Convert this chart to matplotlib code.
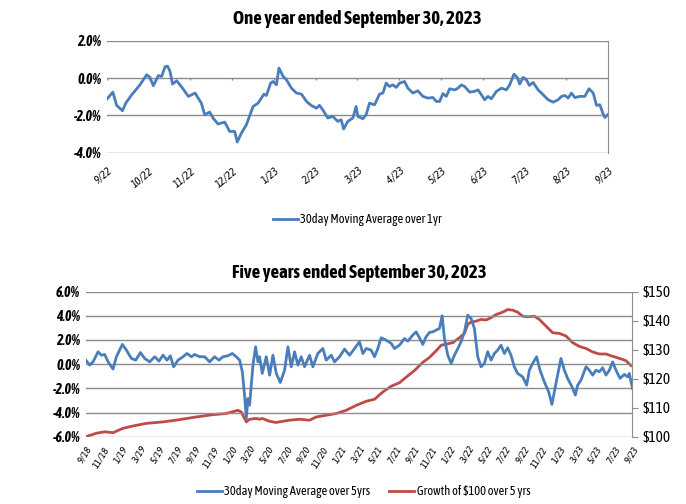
import matplotlib
matplotlib.use("Agg")
import matplotlib.pyplot as plt

plt.rcParams['font.family'] = ['Asap Condensed', 'Liberation Sans', 'DejaVu Sans']

BLUE = "#4A7EBB"
RED = "#BE4B48"
GRID = "#8C8C8C"

# ---- one year chart: months since 9/30/22, 30day moving average (%) ----
yr_month = [0.0, 0.14, 0.23, 0.37, 0.45, 0.59, 0.79, 0.95, 1.03, 1.11, 1.23, 1.31, 1.39, 1.45,
            1.51, 1.57, 1.67, 1.81, 1.95, 2.11, 2.26, 2.34, 2.46, 2.54, 2.66, 2.82, 2.94, 3.06,
            3.12, 3.22, 3.34, 3.5, 3.62, 3.76, 3.82, 3.92, 3.98, 4.06, 4.12, 4.22, 4.3, 4.42,
            4.54, 4.66, 4.78, 4.89, 5.02, 5.09, 5.17, 5.29, 5.41, 5.53, 5.61, 5.67, 5.77, 5.89,
            5.97, 6.01, 6.13, 6.21, 6.29, 6.41, 6.53, 6.61, 6.69, 6.77, 6.85, 6.93, 7.01, 7.13,
            7.21, 7.33, 7.45, 7.57, 7.69, 7.81, 7.89, 7.97, 8.05, 8.13, 8.21, 8.33, 8.41, 8.49,
            8.57, 8.69, 8.81, 8.89, 8.97, 9.05, 9.13, 9.21, 9.33, 9.45, 9.57, 9.65, 9.75, 9.83,
            9.89, 9.97, 10.05, 10.12, 10.21, 10.33, 10.45, 10.57, 10.69, 10.81, 10.89, 10.97,
            11.05, 11.13, 11.21, 11.33, 11.45, 11.55, 11.65, 11.73, 11.81, 11.89, 11.93, 12.0]
yr_avg = [-1.12, -0.75, -1.46, -1.75, -1.34, -0.9, -0.36, 0.18, 0.04, -0.41, 0.14, 0.09, 0.61, 0.64,
          0.36, -0.32, -0.14, -0.54, -0.98, -0.8, -1.34, -1.96, -1.82, -2.14, -2.46, -2.36, -2.86, -2.86,
          -3.43, -2.95, -2.5, -1.52, -1.34, -0.86, -0.93, -0.27, -0.18, -0.36, 0.54, 0.09, -0.09, -0.54,
          -0.8, -0.86, -1.25, -1.46, -1.61, -1.46, -1.7, -2.14, -2.05, -2.32, -2.23, -2.73, -2.32, -2.14,
          -1.52, -2.05, -2.18, -1.96, -1.34, -1.43, -0.86, -0.8, -0.27, -0.45, -0.36, -0.5, -0.27, -0.18,
          -0.54, -0.8, -0.68, -0.98, -1.07, -1.04, -1.25, -1.25, -0.83, -0.98, -0.57, -0.63, -0.54, -0.36,
          -0.45, -0.75, -0.71, -0.63, -0.89, -1.16, -0.98, -1.11, -0.71, -0.54, -0.63, -0.36, 0.21, 0.04,
          -0.32, 0.04, -0.09, -0.39, -0.23, -0.63, -0.89, -1.16, -1.29, -1.16, -0.98, -0.93,
          -1.07, -0.8, -1.04, -0.98, -0.98, -0.57, -0.8, -1.46, -1.43, -1.93, -2.11, -1.96]
yr_labels = ["9/22", "10/22", "11/22", "12/22", "1/23", "2/23", "3/23", "4/23", "5/23",
             "6/23", "7/23", "8/23", "9/23"]

# ---- five year chart: months since 9/30/18 ----
fy_month = [0.0, 0.44, 0.8, 1.35, 1.72, 2.08, 2.45, 3.0, 3.36, 4.02, 4.46, 5.01, 5.48, 6.0, 6.47,
            7.02, 7.57, 8.04, 8.48, 8.92, 9.28, 9.65, 10.12, 10.67, 11.11, 11.59, 11.95, 12.5,
            13.05, 13.6, 14.14, 14.62, 15.06, 15.6, 16.08, 16.52, 16.89, 17.18, 17.43, 17.62,
            17.8, 17.98, 18.17, 18.35, 18.64, 18.9, 19.08, 19.37, 19.81, 20.18, 20.54, 20.91,
            21.35, 21.82, 22.19, 22.55, 22.92, 23.28, 23.65, 24.01, 24.56, 24.93, 25.47, 26.02,
            26.39, 26.94, 27.3, 27.85, 28.4, 28.95, 29.5, 30.04, 30.41, 30.77, 31.32, 31.69,
            32.05, 32.42, 32.97, 33.52, 33.88, 34.43, 34.98, 35.34, 35.89, 36.26, 36.62, 36.99,
            37.35, 37.72, 38.08, 38.45, 38.82, 39.11, 39.36, 39.73, 40.1, 40.46, 40.83, 41.19,
            41.56, 41.92, 42.29, 42.65, 43.02, 43.38, 43.75, 44.11, 44.48, 44.84, 45.21, 45.57,
            45.94, 46.3, 46.67, 47.03, 47.4, 47.95, 48.39, 48.68, 49.04, 49.48, 49.85, 50.32,
            50.8, 51.16, 51.53, 51.89, 52.15, 52.52, 52.88, 53.36, 53.73, 53.98, 54.35, 54.9,
            55.26, 55.63, 55.99, 56.36, 56.73, 57.09, 57.46, 57.82, 58.19, 58.63, 59.1, 59.47,
            59.65, 60.0]
fy_avg = [0.33, -0.08, 0.19, 1.02, 0.74, 0.8, 0.19, -0.41, 0.61, 1.63, 1.16, 0.47, 0.33, 0.96, 0.47,
          0.19, 0.61, 0.25, 0.74, 0.33, 0.69, -0.22, 0.33, 0.61, 0.88, 0.61, 0.8, 0.61,
          0.61, 0.19, 0.61, 0.33, 0.61, 0.69, 0.88, 0.61, 0.33, -0.63, -2.56, -4.49,
          -2.84, -3.39, -1.74, -0.08, 1.43, 0.19, 0.61, -0.77, 0.61, -0.91, 0.74, -0.77,
          -1.52, -0.5, 1.43, -0.22, 1.02, -0.08, 0.61, -0.22, 0.74, -0.22, 0.88, 1.29,
          0.33, 0.74, 0.19, 0.61, 1.24, 0.74, 1.29, 1.85, 0.88, 1.29, 1.16, 0.61,
          1.29, 2.18, 1.98, 1.71, 1.29, 1.57, 2.12, 1.9, 2.4, 2.67, 2.18, 1.63,
          2.26, 2.62, 2.67, 2.81, 2.95, 4.0, 2.12, 0.74, 0.06, 0.74, 1.29, 1.85,
          2.67, 4.05, 3.77, 2.95, 0.61, -0.22, 0.06, 1.02, 0.33, 0.88, 1.16, 1.57,
          0.88, 1.35, 0.74, -0.22, -0.77, -1.05, -1.74, -0.5, 0.06, 0.61, -0.5, -1.46,
          -2.29, -3.33, -1.87, -0.5, 0.47, -0.5, -1.18, -1.87, -2.56, -1.74, -1.32, -0.22,
          -0.5, -0.91, -0.5, -0.63, -0.3, -0.91, -0.5, 0.19, -0.5, -1.18, -0.85, -1.05,
          -0.77, -2.01]

growth_month = [0.0, 1.17, 2.08, 3.0, 4.09, 5.19, 6.65, 8.48, 10.31, 12.13, 13.96, 15.42, 16.7,
                17.07, 17.62, 17.98, 18.71, 19.08, 19.37, 20.1, 20.83, 22.37, 23.46, 24.56, 25.29,
                26.39, 27.49, 28.58, 29.68, 30.77, 31.69, 32.6, 33.52, 34.43, 35.16, 36.07, 36.99,
                37.72, 38.45, 39.0, 39.55, 40.28, 41.01, 41.56, 41.92, 42.29, 42.84, 43.38, 43.93,
                44.48, 45.03, 45.76, 46.3, 46.85, 47.4, 47.95, 48.5, 49.23, 49.78, 50.51, 51.24,
                51.97, 52.7, 53.43, 54.17, 54.9, 55.63, 56.36, 57.09, 57.82, 58.55, 59.28, 59.83]
growth = [100.0, 101.2, 101.7, 101.4, 102.9, 103.7, 104.6, 105.1, 105.9, 106.8, 107.6, 108.0, 109.1,
          108.5, 105.1, 106.0, 106.3, 106.0, 106.3, 105.4, 104.9, 105.7, 106.0, 105.7, 106.8,
          107.4, 108.0, 109.1, 110.8, 112.2, 112.9, 115.4, 117.4, 118.6, 120.5, 122.8, 125.6,
          127.3, 129.6, 131.5, 131.9, 132.4, 134.1, 135.6, 138.7, 139.5, 139.8, 140.4, 140.2,
          141.0, 142.1, 142.9, 143.8, 143.6, 142.9, 141.5, 141.3, 141.5, 140.4, 138.1, 135.8,
          135.6, 134.7, 132.4, 131.1, 130.4, 129.2, 128.5, 128.5, 127.7, 127.0, 126.2, 124.5]

fy_labels = ["9/18", "11/18", "1/19", "3/19", "5/19", "7/19", "9/19", "11/19", "1/20", "3/20",
             "5/20", "7/20", "9/20", "11/20", "1/21", "3/21", "5/21", "7/21", "9/21", "11/21",
             "1/22", "3/22", "5/22", "7/22", "9/22", "11/22", "1/23", "3/23", "5/23", "7/23",
             "9/23"]

pct_ticks_top = [-4, -2, 0, 2]
pct_ticks_bot = [-6, -4, -2, 0, 2, 4, 6]
dollar_ticks = [100, 110, 120, 130, 140, 150]

fig = plt.figure(figsize=(6.86, 5.04), dpi=100)


def pct_labels(ticks):
    return [f"{t:.1f}%" for t in ticks]


# ---------------- top chart ----------------
ax1 = fig.add_axes([0.156, 0.697, 0.730, 0.222])
ax1.plot(yr_month, yr_avg, color=BLUE, lw=2.0, label="30day Moving Average over 1yr",
         solid_joinstyle="round")
ax1.set_xlim(0, 12)
ax1.set_ylim(-4, 2)
ax1.set_yticks(pct_ticks_top)
ax1.set_yticklabels(pct_labels(pct_ticks_top), fontweight="bold", fontstyle="italic", fontsize=10)
for t in pct_ticks_top:
    ax1.axhline(t, color=GRID, lw=1, zorder=0)
ax1_ticks = list(range(len(yr_labels)))
ax1.vlines(ax1_ticks, -0.12, 0, colors=GRID, lw=1, zorder=0)
ax1.set_xticks(ax1_ticks)
ax1.set_xticklabels(yr_labels, rotation=40, ha="right", rotation_mode="anchor",
                    fontstyle="italic", fontsize=8)
ax1.tick_params(length=0, pad=4)
ax1.tick_params(axis="x", pad=9)
for s in ["left", "top", "bottom"]:
    ax1.spines[s].set_visible(False)
ax1.spines["right"].set_color(GRID)
ax1.set_title("One year ended September 30, 2023", fontsize=13.5, fontweight="bold", pad=12)
ax1.legend(loc="upper center", bbox_to_anchor=(0.5, -0.44), frameon=False, fontsize=9,
           handlelength=2.0, handletextpad=0.2)

# ---------------- bottom chart ----------------
ax2 = fig.add_axes([0.125, 0.1335, 0.797, 0.288])
l1, = ax2.plot(fy_month, fy_avg, color=BLUE, lw=2.0, label="30day Moving Average over 5yrs",
               zorder=3, solid_joinstyle="round")
ax2.set_xlim(0, 60)
ax2.set_ylim(-6, 6)
ax2.set_yticks(pct_ticks_bot)
ax2.set_yticklabels(pct_labels(pct_ticks_bot), fontweight="bold", fontstyle="italic", fontsize=10)
for t in pct_ticks_bot:
    ax2.axhline(t, color=GRID, lw=1, zorder=0)
fy_ticks = [2 * i for i in range(len(fy_labels))]
ax2.set_xticks(fy_ticks)
ax2.set_xticklabels(fy_labels, rotation=58, ha="right", rotation_mode="anchor",
                    fontstyle="italic", fontsize=7.5)
ax2.tick_params(length=0, pad=4)
ax2.tick_params(axis="x", pad=6)
for s in ["left", "top", "bottom", "right"]:
    ax2.spines[s].set_visible(False)
ax2.set_title("Five years ended September 30, 2023", fontsize=13.5, fontweight="bold", pad=10)

ax3 = ax2.twinx()
l2, = ax3.plot(growth_month, growth, color=RED, lw=2.0, label="Growth of $100 over 5 yrs",
               solid_joinstyle="round")
ax3.set_ylim(100, 150)
ax3.set_yticks(dollar_ticks)
ax3.set_yticklabels([f"${t}" for t in dollar_ticks], fontsize=11)
ax3.tick_params(axis="y", length=4, color=GRID, direction="out", pad=3)
for s in ["left", "top", "bottom"]:
    ax3.spines[s].set_visible(False)
ax3.spines["right"].set_color(GRID)
ax2.set_zorder(ax3.get_zorder() + 1)
ax2.patch.set_visible(False)

fig.legend([l1, l2], [l1.get_label(), l2.get_label()], loc="center",
           bbox_to_anchor=(0.53, 0.024), ncol=2, frameon=False, fontsize=9,
           handlelength=2.0, handletextpad=0.2, columnspacing=1.5)

fig.savefig("out.png", dpi=100)
